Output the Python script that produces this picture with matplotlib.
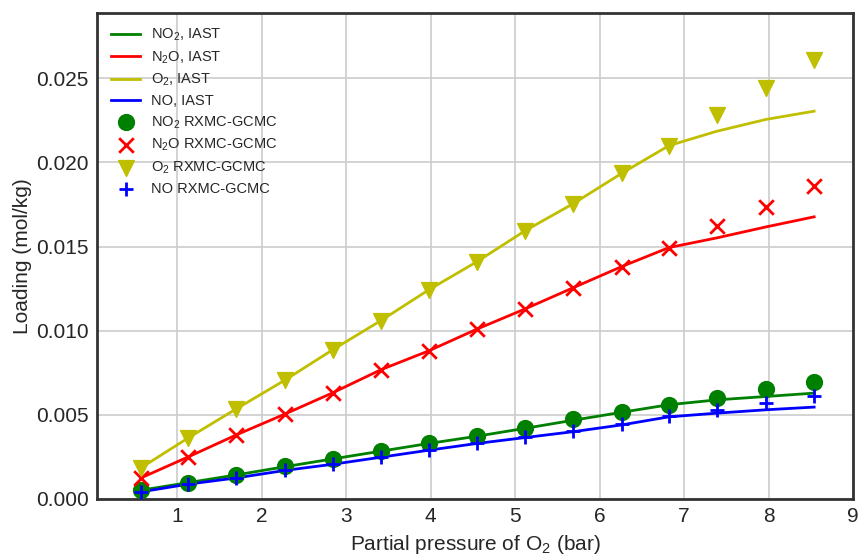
import numpy as np
import matplotlib
matplotlib.use('Agg')
import matplotlib.pyplot as plt

# partial pressure of O2 (bar)
p_o2 = [0.57, 1.13, 1.70, 2.28, 2.84, 3.41, 3.98, 4.55, 5.12, 5.69, 6.26, 6.82, 7.39, 7.97, 8.54]

# IAST predictions (mol/kg)
no2_iast = [0.00052, 0.00097, 0.00143, 0.00192, 0.00238, 0.00284, 0.00330, 0.00373, 0.00420, 0.00468, 0.00515, 0.00560, 0.00589, 0.00609, 0.00629]
n2o_iast = [0.00125, 0.00250, 0.00381, 0.00506, 0.00631, 0.00768, 0.00881, 0.01010, 0.01130, 0.01256, 0.01381, 0.01494, 0.01552, 0.01617, 0.01677]
o2_iast = [0.00185, 0.00363, 0.00536, 0.00708, 0.00887, 0.01060, 0.01244, 0.01411, 0.01595, 0.01756, 0.01935, 0.02100, 0.02186, 0.02256, 0.02305]
no_iast = [0.00042, 0.00088, 0.00125, 0.00170, 0.00206, 0.00248, 0.00290, 0.00330, 0.00365, 0.00400, 0.00440, 0.00488, 0.00510, 0.00530, 0.00546]

# RXMC-GCMC simulation results (mol/kg)
no2_sim = [0.00054, 0.00095, 0.00143, 0.00196, 0.00238, 0.00286, 0.00333, 0.00375, 0.00423, 0.00476, 0.00518, 0.00560, 0.00601, 0.00655, 0.00696]
n2o_sim = [0.00125, 0.00250, 0.00381, 0.00506, 0.00631, 0.00768, 0.00881, 0.01010, 0.01130, 0.01256, 0.01381, 0.01494, 0.01625, 0.01738, 0.01863]
o2_sim = [0.00185, 0.00363, 0.00536, 0.00708, 0.00887, 0.01060, 0.01244, 0.01411, 0.01595, 0.01756, 0.01935, 0.02100, 0.02280, 0.02440, 0.02610]
no_sim = [0.00042, 0.00090, 0.00125, 0.00173, 0.00208, 0.00250, 0.00292, 0.00333, 0.00369, 0.00405, 0.00446, 0.00494, 0.00530, 0.00571, 0.00613]

plt.rcParams['font.family'] = ['Liberation Sans', 'DejaVu Sans']
plt.rcParams['text.color'] = '#262626'
plt.rcParams['axes.labelcolor'] = '#262626'
plt.rcParams['xtick.color'] = '#262626'
plt.rcParams['ytick.color'] = '#262626'
plt.rcParams['mathtext.fontset'] = 'custom'
plt.rcParams['mathtext.rm'] = 'Liberation Sans'
plt.rcParams['mathtext.it'] = 'Liberation Sans:italic'

fig = plt.figure(figsize=(8.59, 5.55), dpi=100)
ax = fig.add_axes([0.113, 0.101, 0.88, 0.876])

ax.plot(p_o2, no2_iast, color='g', lw=2, label=r'NO$_2$, IAST')
ax.plot(p_o2, n2o_iast, color='r', lw=2, label=r'N$_2$O, IAST')
ax.plot(p_o2, o2_iast, color='y', lw=2, label=r'O$_2$, IAST')
ax.plot(p_o2, no_iast, color='b', lw=2, label='NO, IAST')

ax.scatter(p_o2, no2_sim, color='g', marker='o', s=130, zorder=3, label=r'NO$_2$ RXMC-GCMC')
ax.scatter(p_o2, n2o_sim, color='r', marker='x', s=110, linewidths=2, zorder=3, label=r'N$_2$O RXMC-GCMC')
ax.scatter(p_o2, o2_sim, color='y', marker='v', s=130, zorder=3, label=r'O$_2$ RXMC-GCMC')
ax.scatter(p_o2, no_sim, color='b', marker='+', s=110, linewidths=2, zorder=3, label='NO RXMC-GCMC')

ax.set_xlim(0.05, 9)
ax.set_ylim(0, 0.0289)
ax.set_xticks([1, 2, 3, 4, 5, 6, 7, 8, 9])
ax.set_yticks([0, 0.005, 0.010, 0.015, 0.020, 0.025])
ax.set_yticklabels(['0.000', '0.005', '0.010', '0.015', '0.020', '0.025'])
ax.tick_params(length=0, labelsize=15, pad=6)

ax.grid(True, color='#cccccc', lw=1.2)
ax.set_axisbelow(True)
for s in ax.spines.values():
    s.set_color('#333333')
    s.set_linewidth(2)

ax.set_xlabel(r'Partial pressure of O$_2$ (bar)', fontsize=15, labelpad=5)
ax.set_ylabel('Loading (mol/kg)', fontsize=15, labelpad=3)
ax.legend(loc='upper left', fontsize=10.5, frameon=False, handlelength=2.0,
          handletextpad=0.75, labelspacing=0.42, borderpad=0.45)

plt.savefig('out.png', dpi=100)
